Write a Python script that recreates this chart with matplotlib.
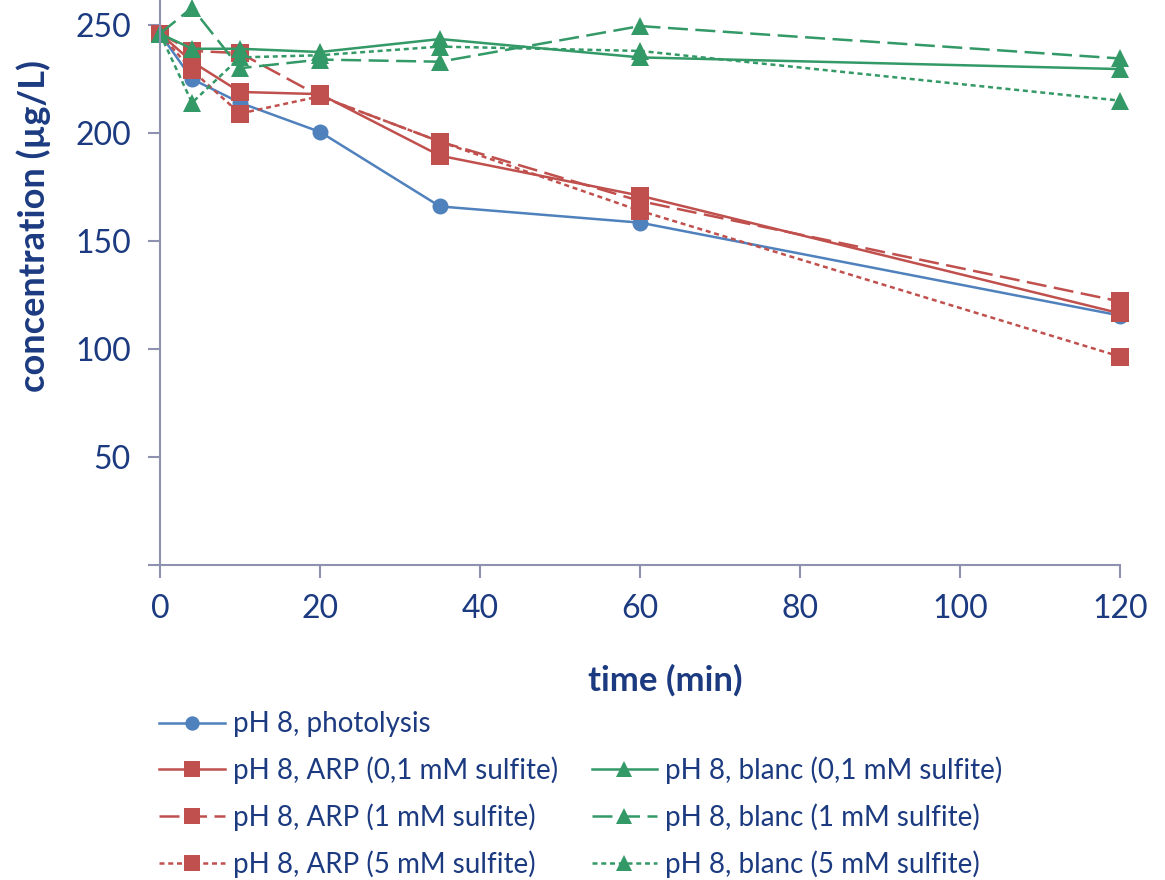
import matplotlib
matplotlib.use("Agg")
import matplotlib.pyplot as plt
from matplotlib.lines import Line2D

plt.rcParams['font.family'] = ['Lato', 'DejaVu Sans']

# Données (temps en min, concentration en µg/L)
time = [0, 4, 10, 20, 35, 60, 120]
photolysis = [246, 225, 214, 200.5, 166, 158.5, 115.5]
arp_01 = [246, 233, 219, 218, 189.5, 171, 116.5]
arp_1 = [246, 238, 237, 217, 196, 168.5, 122]
arp_5 = [246, 229, 209, 217, 196, 164, 96.5]
blanc_01 = [246, 239, 239, 237.5, 243.5, 235, 229.6]
blanc_1 = [246, 258, 230, 234, 233, 249.5, 234.5]
blanc_5 = [246, 214, 235, 236, 240, 238, 215]

labels = ["pH 8, photolysis",
          "pH 8, ARP (0,1 mM sulfite)", "pH 8, ARP (1 mM sulfite)", "pH 8, ARP (5 mM sulfite)",
          "pH 8, blanc (0,1 mM sulfite)", "pH 8, blanc (1 mM sulfite)", "pH 8, blanc (5 mM sulfite)"]

blue = "#4F81BD"
red = "#C0504D"
green = "#339966"
navy = "#1B3A80"
axis_col = "#8E92B0"

long_dash = (0, (8, 3))
short_dash = (0, (2, 1.5))

fig = plt.figure(figsize=(11.65, 8.8), dpi=100)
ax = fig.add_axes([160 / 1165, 1 - 565 / 880, 960 / 1165, 565 / 880])

lw = 1.8
series = [
    (photolysis, blue, "-", "o", 11.5),
    (arp_01, red, "-", "s", 13),
    (arp_1, red, long_dash, "s", 13),
    (arp_5, red, short_dash, "s", 13),
    (blanc_01, green, "-", "^", 13),
    (blanc_1, green, long_dash, "^", 13),
    (blanc_5, green, short_dash, "^", 13),
]
handles = []
for (vals, col, ls, mk, ms), lab in zip(series, labels):
    h, = ax.plot(time, vals, color=col, linestyle=ls, linewidth=lw, marker=mk,
                 markersize=ms, markeredgewidth=0, label=lab, clip_on=False)
    handles.append(h)

ax.set_xlim(0, 120)
ax.set_ylim(0, 565 / 2.16)
ax.set_xticks([0, 20, 40, 60, 80, 100, 120])
ax.set_yticks([0, 50, 100, 150, 200, 250])
ax.set_yticklabels(["", "50", "100", "150", "200", "250"])

for s in ["top", "right"]:
    ax.spines[s].set_visible(False)
for s in ["left", "bottom"]:
    ax.spines[s].set_color(axis_col)
    ax.spines[s].set_linewidth(1.5)
ax.tick_params(axis="both", colors=axis_col, labelcolor=navy, labelsize=23,
               length=9, width=1.5, direction="out")
ax.tick_params(axis="x", pad=12)
ax.tick_params(axis="y", pad=12)

ax.set_xlabel("time (min)", fontsize=25, fontweight="bold", color=navy)
ax.xaxis.set_label_coords(0.526, -0.204)
ax.xaxis.label.set_va("center")
ax.set_ylabel("concentration (µg/L)", fontsize=26, fontweight="bold", color=navy)
ax.yaxis.set_label_coords(-0.132, 0.60)
ax.yaxis.label.set_va("center")

# Légende sur deux colonnes, la première ligne n'ayant qu'une entrée
blank = Line2D([], [], linestyle="none", marker=None)
leg_handles = [handles[0], handles[1], handles[2], handles[3],
               blank, handles[4], handles[5], handles[6]]
leg_labels = [labels[0], labels[1], labels[2], labels[3],
              "", labels[4], labels[5], labels[6]]
leg = fig.legend(leg_handles, leg_labels, ncol=2, loc="upper left",
                 bbox_to_anchor=(140 / 1165, 1 - 692 / 880), frameon=False,
                 fontsize=20, handlelength=2.35, handletextpad=0.3,
                 columnspacing=1.2, labelspacing=0.69, markerscale=0.9,
                 borderpad=0.2)
for t in leg.get_texts():
    t.set_color(navy)

fig.savefig("out.png", dpi=100)
